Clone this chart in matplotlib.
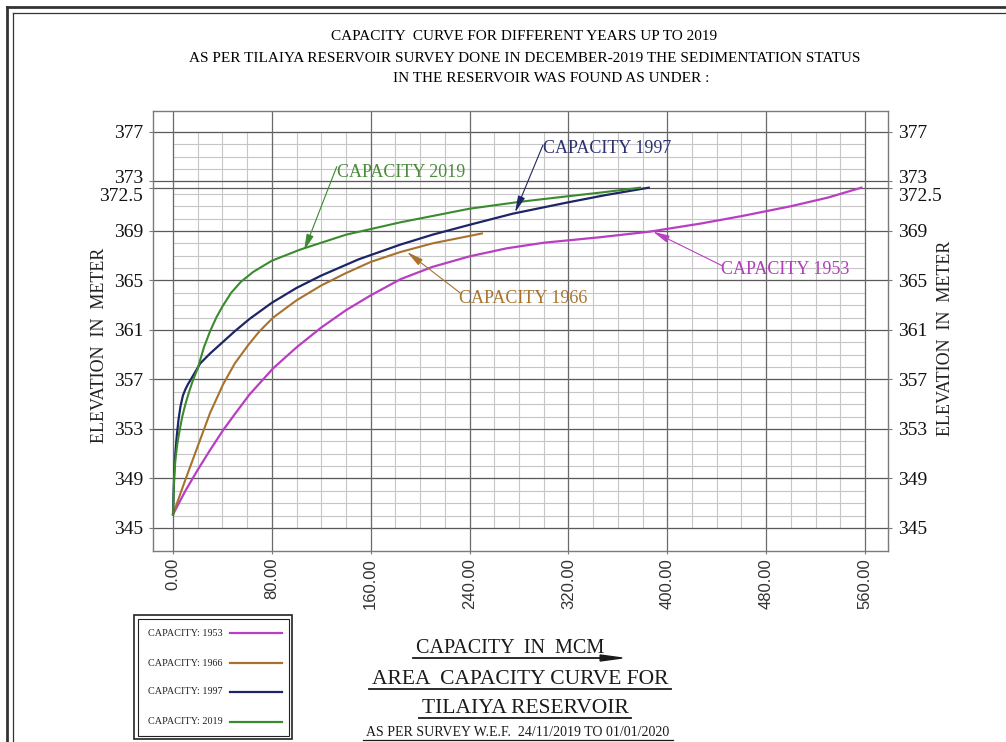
import numpy as np
import matplotlib
matplotlib.use("Agg")
import matplotlib.pyplot as plt
from matplotlib.lines import Line2D
from matplotlib.patches import Rectangle, FancyArrow
from matplotlib.transforms import ScaledTranslation

# capacity (MCM) vs elevation (m) read from the survey sheet
cap_1953 = [0, 10, 20, 30, 40.5, 50, 62, 81, 100, 120, 140, 160, 184, 210, 240, 270, 300,
            346, 386, 427, 460, 500, 530, 557]
elev_1953 = [346.1, 348.0, 349.7, 351.3, 352.9, 354.2, 355.8, 357.9, 359.6, 361.2, 362.6, 363.8,
             365.1, 366.1, 366.95, 367.6, 368.05, 368.5, 368.95, 369.6, 370.2, 371.0, 371.7, 372.5]

cap_1966 = [0, 5, 10, 20, 30, 40.5, 50, 61, 70, 81, 100, 120, 140, 160, 184, 210, 230, 250]
elev_1966 = [346.1, 347.5, 348.9, 351.6, 354.3, 356.6, 358.3, 359.8, 360.9, 362.0, 363.4, 364.6,
             365.6, 366.5, 367.3, 368.0, 368.4, 368.8]

cap_1997 = [0, 0.5, 1, 2, 3, 4.5, 6, 8, 10, 12, 15, 22, 30, 40, 50, 62, 80, 100, 120, 150, 184,
            210, 240, 275, 319, 350, 385]
elev_1997 = [346.1, 348.0, 349.5, 351.2, 352.4, 353.8, 354.8, 355.7, 356.2, 356.6, 357.1, 358.3,
             359.1, 360.0, 360.9, 361.9, 363.2, 364.4, 365.4, 366.7, 367.9, 368.7, 369.5, 370.4,
             371.3, 371.9, 372.5]

cap_2019 = [0, 1, 2, 3.5, 5, 7.5, 10, 13, 16, 20, 25, 30, 35, 40, 47, 55, 65, 80, 103, 140, 184,
            240, 280, 319, 350, 378]
elev_2019 = [346.1, 349.2, 350.6, 351.8, 352.7, 354.0, 355.0, 356.0, 356.9, 357.9, 359.6, 360.9,
             362.0, 362.9, 364.0, 364.9, 365.7, 366.6, 367.5, 368.7, 369.7, 370.8, 371.35, 371.8,
             372.15, 372.5]

years = ["1953", "1966", "1997", "2019"]
colors = ["#B83EC2", "#A8722E", "#1E2566", "#3A8A2E"]
text_colors = ["#B23CBC", "#A8742E", "#2B3170", "#4A8A3A"]

y_ticks = [377, 373, 372.5, 369, 365, 361, 357, 353, 349, 345]
x_ticks = [0, 80, 160, 240, 320, 400, 480, 560]

W, H = 1006, 742
def fx(px):
    return px / W
def fy(py):
    return 1 - py / H

fig = plt.figure(figsize=(W / 100, H / 100), dpi=100)
ax = fig.add_axes([fx(153), fy(551), (888 - 153) / W, (551 - 110.7) / H])
ax.set_xlim(-16.2, 578.6)
ax.set_ylim(343.14, 378.72)

# grid: light minor mesh inside 0..560 / 345..377, darker majors everywhere
ax.hlines(np.arange(345, 378, 1), 0, 560, color="#c6c6c6", lw=0.8, zorder=1)
ax.vlines(np.arange(0, 561, 20), 345, 377, color="#c6c6c6", lw=0.8, zorder=1)
for v in y_ticks:
    ax.axhline(v, color="#5a5a5a", lw=0.9, zorder=2)
for v in x_ticks:
    ax.axvline(v, color="#6a6a6a", lw=0.9, zorder=2)

for s in ax.spines.values():
    s.set_color("#7a7a7a")
    s.set_linewidth(1.0)

# curves
ax.plot(cap_1953, elev_1953, color=colors[0], lw=1.6, zorder=4)
ax.plot(cap_1966, elev_1966, color=colors[1], lw=1.5, zorder=4)
ax.plot(cap_1997, elev_1997, color=colors[2], lw=1.6, zorder=4)
ax.plot(cap_2019, elev_2019, color=colors[3], lw=1.5, zorder=4)

# ticks
ax.set_yticks(y_ticks)
ax.set_yticklabels([("%g" % v) for v in y_ticks])
ax.tick_params(axis="y", which="both", left=True, right=True, labelleft=True, labelright=True,
               length=3, width=0.8, color="#7a7a7a", pad=4, labelsize=14)
for t in ax.yaxis.get_major_ticks():
    for lab in (t.label1, t.label2):
        lab.set_family("Liberation Serif")
        lab.set_fontsize(14)
        lab.set_color("#111111")
    v = t.get_loc()
    off = None
    # 373 and 372.5 sit almost on top of each other, push them apart a little
    if v == 373:
        off = ScaledTranslation(0, 4.5 / 100, fig.dpi_scale_trans)
    elif v == 372.5:
        off = ScaledTranslation(0, -6.5 / 100, fig.dpi_scale_trans)
    if off is not None:
        t.label1.set_transform(t.label1.get_transform() + off)
        t.label2.set_transform(t.label2.get_transform() + off)

ax.set_xticks(x_ticks)
ax.set_xticklabels(["%.2f" % v for v in x_ticks], rotation=90, family="Liberation Sans",
                   fontsize=12, color="#333333")
ax.tick_params(axis="x", length=2, color="#7a7a7a", pad=3)

# curve labels with arrows
notes = [
    ("CAPACITY 2019", (132.5, 374.2), (106, 367.4), (132.7, 373.75), 3),
    ("CAPACITY 1997", (299.4, 375.95), (276.8, 370.5), (299.4, 375.7), 2),
    ("CAPACITY 1966", (232.3, 364.0), (189.4, 367.3), (231.4, 363.55), 1),
    ("CAPACITY 1953", (444.3, 366.2), (388.4, 368.95), (443.5, 365.85), 0),
]
for txt, start, tip, pos, k in notes:
    ax.annotate("", xy=tip, xytext=start,
                arrowprops=dict(arrowstyle="-|>,head_length=1.0,head_width=0.22",
                                color=colors[k], lw=0.8, shrinkA=0, shrinkB=0), zorder=5)
    ax.text(pos[0], pos[1], txt, color=text_colors[k], family="Liberation Serif",
            fontsize=13, ha="left", va="center", zorder=5)

# axis titles
fig.text(fx(100), fy(345), "ELEVATION  IN  METER", rotation=90, ha="center", va="center",
         family="Liberation Serif", fontsize=13, color="#222222")
fig.text(fx(946), fy(338), "ELEVATION  IN  METER", rotation=90, ha="center", va="center",
         family="Liberation Serif", fontsize=13, color="#222222")

# heading
fig.text(fx(524), fy(37), "CAPACITY  CURVE FOR DIFFERENT YEARS UP TO 2019", ha="center",
         va="center", family="Liberation Serif", fontsize=11)
fig.text(fx(525), fy(58), "AS PER TILAIYA RESERVOIR SURVEY DONE IN DECEMBER-2019 THE SEDIMENTATION STATUS",
         ha="center", va="center", family="Liberation Serif", fontsize=11)
fig.text(fx(551), fy(79), "IN THE RESERVOIR WAS FOUND AS UNDER :", ha="center", va="center",
         family="Liberation Serif", fontsize=11)

# sheet border (top and left only, rest is cropped)
fig.add_artist(Line2D([fx(7), fx(7)], [fy(7), 0], color="#333333", lw=2.0))
fig.add_artist(Line2D([fx(7), 1], [fy(7), fy(7)], color="#333333", lw=2.0))
fig.add_artist(Line2D([fx(13), fx(13)], [fy(13), 0], color="#333333", lw=0.9))
fig.add_artist(Line2D([fx(13), 1], [fy(13), fy(13)], color="#333333", lw=0.9))

# legend box
fig.add_artist(Rectangle((fx(134), fy(739)), (292 - 134) / W, (739 - 615) / H, fill=False,
                         ec="#222222", lw=1.2))
fig.add_artist(Rectangle((fx(137.5), fy(735.5)), (288.5 - 137.5) / W, (735.5 - 618.5) / H,
                         fill=False, ec="#222222", lw=0.8))
leg_y = [633, 663, 692, 722]
for k in range(4):
    fig.text(fx(148), fy(leg_y[k]), "CAPACITY: " + years[k], ha="left", va="center",
             family="Liberation Serif", fontsize=7.3, color="#222222")
    fig.add_artist(Line2D([fx(230), fx(282)], [fy(leg_y[k]), fy(leg_y[k])], color=colors[k], lw=1.6))

# bottom block with underlines
bottom = [
    ("CAPACITY  IN  MCM", 510, 653, 14.5, 658),
    ("AREA  CAPACITY CURVE FOR", 520, 684, 15.5, 689),
    ("TILAIYA RESERVOIR", 525, 713, 15.5, 718),
    ("AS PER SURVEY W.E.F.  24/11/2019 TO 01/01/2020", 518, 736, 10, 740),
]
texts = []
for s, cx, base, size, uy in bottom:
    t = fig.text(fx(cx), fy(base), s, ha="center", va="baseline", family="Liberation Serif",
                 fontsize=size, color="#1a1a1a")
    texts.append((t, uy))

fig.canvas.draw()
for i, (t, uy) in enumerate(texts):
    bb = t.get_window_extent()
    x0 = bb.x0 - 3
    x1 = bb.x1 + 3
    if i == 0:
        x1 = bb.x1 - 4
        fig.add_artist(Line2D([x0 / W, x1 / W], [fy(uy), fy(uy)], color="#1a1a1a", lw=1.3))
        fig.add_artist(FancyArrow(x1 / W, fy(uy), 22 / W, 0, width=0.0, head_width=6 / H,
                                  head_length=22 / W, length_includes_head=True,
                                  color="#1a1a1a", transform=fig.transFigure))
    else:
        fig.add_artist(Line2D([x0 / W, x1 / W], [fy(uy), fy(uy)], color="#1a1a1a",
                              lw=1.3 if i < 3 else 0.9))

fig.savefig("out.png", dpi=100)
